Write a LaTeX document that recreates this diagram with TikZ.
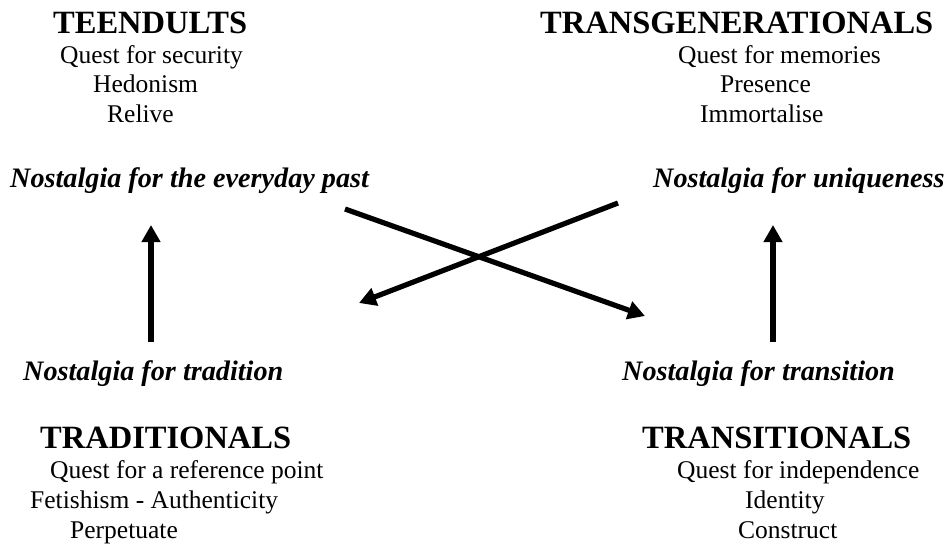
\documentclass[tikz,border=0pt]{standalone}
\usepackage{fontspec}
\setmainfont{Liberation Serif}
\usetikzlibrary{arrows.meta}
\tikzset{
  grp/.style={anchor=base west, inner sep=0pt, font=\fontsize{32.5}{39}\selectfont\bfseries},
  trait/.style={anchor=base west, inner sep=0pt, font=\fontsize{25.5}{30}\selectfont},
  nost/.style={anchor=base west, inner sep=0pt, font=\fontsize{28.2}{34}\selectfont\bfseries\itshape},
  bigarrow/.style={line width=5.2pt, -{Triangle[length=17pt,width=18pt]}}
}
\begin{document}
\begin{tikzpicture}[x=1pt,y=-1pt]
\useasboundingbox (0,0) rectangle (948,549);
% top left
\node[grp]   (teen)  at (53,33)  {TEENDULTS};
\node[trait] (teen1) at (60,63)  {Quest for security};
\node[trait] (teen2) at (93,92)  {Hedonism};
\node[trait] (teen3) at (107,122) {Relive};
% top right
\node[grp]   (trans)  at (540,33)  {TRANSGENERATIONALS};
\node[trait] (trans1) at (678,63)  {Quest for memories};
\node[trait] (trans2) at (720,92)  {Presence};
\node[trait] (trans3) at (700,122) {Immortalise};
% nostalgia labels
\node[nost] (nevery) at (10,187)  {Nostalgia for the everyday past};
\node[nost] (nuniq)  at (653,187) {Nostalgia for uniqueness};
\node[nost] (ntrad)  at (23,380)  {Nostalgia for tradition};
\node[nost] (ntrans) at (622,380) {Nostalgia for transition};
% bottom left
\node[grp]   (trad)  at (40,448)  {TRADITIONALS};
\node[trait] (trad1) at (50,478)  {Quest for a reference point};
\node[trait] (trad2) at (30,508)  {Fetishism - Authenticity};
\node[trait] (trad3) at (70,538)  {Perpetuate};
% bottom right
\node[grp]   (tsit)  at (642,448) {TRANSITIONALS};
\node[trait] (tsit1) at (677,478) {Quest for independence};
\node[trait] (tsit2) at (745,508) {Identity};
\node[trait] (tsit3) at (738,538) {Construct};
% arrow end points
\coordinate (la0) at (151,342);
\coordinate (la1) at (151,225);
\coordinate (ra0) at (773,342);
\coordinate (ra1) at (773,225);
\coordinate (xa0) at (345,209);
\coordinate (xa1) at (645,316);
\coordinate (xb0) at (618,203);
\coordinate (xb1) at (359,303);
\draw[bigarrow] (la0) -- (la1);
\draw[bigarrow] (ra0) -- (ra1);
\draw[bigarrow] (xa0) -- (xa1);
\draw[bigarrow] (xb0) -- (xb1);
\end{tikzpicture}
\end{document}
